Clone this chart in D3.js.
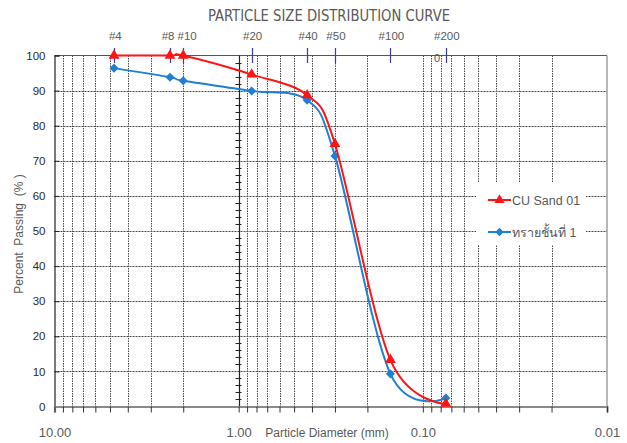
<!DOCTYPE html>
<html>
<head>
<meta charset="utf-8">
<script src="https://cdn.jsdelivr.net/npm/d3@7"></script>
<style>
  html, body { margin: 0; padding: 0; background: #fff; }
  svg { display: block; }
  text { white-space: pre; }
</style>
</head>
<body>
<div id="chart"></div>
<script>
// Sieve series (opening size in mm) and the percent passing for each sample
const sieveNames = ["#4", "#8", "#10", "#20", "#40", "#50", "#100", "#200"];
const sieveSizes = [4.75, 2.36, 2.0, 0.85, 0.425, 0.3, 0.15, 0.075];
const cuSand01   = [100, 100, 100, 94.6, 88.7, 74.8, 13.3, 0.8];
const sandLayer1 = [96.4, 93.8, 92.8, 89.9, 87.3, 71.4, 9.3, 2.4];
const seriesNames = ["CU Sand 01", "ทรายชั้นที่ 1"];
const xMajorTicks = [10, 1, 0.1, 0.01];
const yTicks = [0, 10, 20, 30, 40, 50, 60, 70, 80, 90, 100];

const W = 627, H = 443;
const plotL = 54.5, plotR = 607, plotT = 55.5, plotB = 406.5;

const svg = d3.select("#chart").append("svg")
  .attr("width", W).attr("height", H);

const x = d3.scaleLog().domain([10, 0.01]).range([plotL, plotR]);
const y = d3.scaleLinear().domain([0, 100]).range([plotB, plotT]);

const allXTicks = x.ticks();
const gridColor = "#4a4a4a";
const textGray = "#595959";
const fontTxt = "'Liberation Sans', Arial, sans-serif";

// vertical grid (dotted) across the full log range
svg.append("g").selectAll("line")
  .data(allXTicks.filter(v => !xMajorTicks.includes(v) || v === 0.1))
  .join("line")
  .attr("x1", d => Math.round(x(d)) + 0.5).attr("x2", d => Math.round(x(d)) + 0.5)
  .attr("y1", plotT).attr("y2", plotB)
  .attr("stroke", gridColor).attr("stroke-width", 1)
  .attr("stroke-dasharray", "1.5,1");

// horizontal grid (dotted)
svg.append("g").selectAll("line")
  .data(yTicks.filter(v => v > 0 && v < 100))
  .join("line")
  .attr("x1", plotL).attr("x2", plotR)
  .attr("y1", d => Math.round(y(d)) + 0.5).attr("y2", d => Math.round(y(d)) + 0.5)
  .attr("stroke", gridColor).attr("stroke-width", 1)
  .attr("stroke-dasharray", "2,1");

// plot frame: top and right borders
svg.append("line").attr("x1", plotL).attr("x2", plotR).attr("y1", plotT).attr("y2", plotT)
  .attr("stroke", "#555").attr("stroke-width", 1);
svg.append("line").attr("x1", plotR).attr("x2", plotR).attr("y1", plotT).attr("y2", plotB)
  .attr("stroke", "#888").attr("stroke-width", 1.2);

// solid line at 1.00 mm with minor tick marks
const x1mm = Math.round(x(1)) + 0.5;
svg.append("line").attr("x1", x1mm).attr("x2", x1mm).attr("y1", plotT).attr("y2", plotB)
  .attr("stroke", "#222").attr("stroke-width", 1.2);
svg.append("g").selectAll("line")
  .data(d3.range(2, 100, 2).filter(v => v % 10 !== 0))
  .join("line")
  .attr("x1", x1mm - 4).attr("x2", x1mm + 2)
  .attr("y1", d => Math.round(y(d)) + 0.5).attr("y2", d => Math.round(y(d)) + 0.5)
  .attr("stroke", "#222").attr("stroke-width", 1);

// left axis
const yAxis = svg.append("g").attr("transform", `translate(${plotL},0)`)
  .call(d3.axisLeft(y).tickValues(yTicks).tickSize(-5).tickPadding(9));
yAxis.select(".domain").attr("stroke", "#222").attr("stroke-width", 1.2);
yAxis.selectAll(".tick line").attr("stroke", "#222");
yAxis.selectAll(".tick text")
  .attr("font-family", fontTxt).attr("font-size", 11.5)
  .attr("fill", "#2a2a2a");

// bottom axis with ticks at every grid position
const xAxis = svg.append("g").attr("transform", `translate(0,${plotB})`)
  .call(d3.axisBottom(x).tickValues(allXTicks).tickSize(6).tickPadding(15)
    .tickFormat(d => xMajorTicks.includes(d) ? d3.format(".2f")(d) : ""));
xAxis.select(".domain").attr("stroke", "#8a8a8a").attr("stroke-width", 2.2);
xAxis.selectAll(".tick line").attr("stroke", "#333");
xAxis.selectAll(".tick text")
  .attr("font-family", fontTxt).attr("font-size", 13)
  .attr("fill", textGray);

// sieve markers along the top edge
svg.append("g").selectAll("line")
  .data(sieveSizes)
  .join("line")
  .attr("x1", d => Math.round(x(d)) + 0.5).attr("x2", d => Math.round(x(d)) + 0.5)
  .attr("y1", 48).attr("y2", 63)
  .attr("stroke", "#3a3aa0").attr("stroke-width", 1.2);

const sieveLabels = svg.append("g").selectAll("text")
  .data(sieveNames)
  .join("text")
  .attr("x", (d, i) => x(sieveSizes[i]) + 1)
  .attr("y", 40)
  .attr("text-anchor", "middle")
  .attr("font-family", fontTxt).attr("font-size", 11.5)
  .attr("fill", textGray)
  .text(d => d);

// push neighbouring sieve labels apart where they would collide
const nodes = sieveLabels.nodes();
const boxes = nodes.map(n => { const b = n.getBBox(); return { n, cx: b.x + b.width / 2, w: b.width }; });
for (let i = 1; i < boxes.length; i++) {
  const a = boxes[i - 1], b = boxes[i];
  const gap = (b.cx - b.w / 2) - (a.cx + a.w / 2);
  if (gap < 3) {
    const shift = (3 - gap) / 2;
    a.cx -= shift; b.cx += shift;
  }
}
boxes.forEach(b => d3.select(b.n).attr("x", b.cx));

svg.append("text").attr("x", 437).attr("y", 62).attr("text-anchor", "middle")
  .attr("font-family", fontTxt).attr("font-size", 11).attr("fill", textGray).text("0");

// titles
svg.append("text").attr("x", 329).attr("y", 21).attr("text-anchor", "middle")
  .attr("font-family", "'Liberation Sans Narrow', 'DejaVu Sans Condensed', 'Liberation Sans', sans-serif")
  .attr("font-size", 15).attr("fill", textGray)
  .attr("textLength", 242).attr("lengthAdjust", "spacingAndGlyphs")
  .text("PARTICLE SIZE DISTRIBUTION CURVE");
svg.append("text").attr("x", 327).attr("y", 437).attr("text-anchor", "middle")
  .attr("font-family", fontTxt).attr("font-size", 12).attr("fill", textGray)
  .text("Particle Diameter (mm)");
svg.append("text")
  .attr("transform", "translate(23,234) rotate(-90)")
  .attr("text-anchor", "middle")
  .attr("font-family", fontTxt).attr("font-size", 12).attr("fill", textGray)
  .text("Percent  Passing  (% )");

// legend background hides the grid beneath it
svg.append("rect").attr("x", 476).attr("y", 182).attr("width", 110).attr("height", 63)
  .attr("fill", "#fff");

// series
const series = [
  { name: seriesNames[0], values: cuSand01, color: "#ff1414", symbol: d3.symbolTriangle, size: 32, rot: 0 },
  { name: seriesNames[1], values: sandLayer1, color: "#1f80d2", symbol: d3.symbolSquare, size: 26, rot: 45 }
];

const line = d3.line()
  .x(d => x(d[0])).y(d => y(d[1]))
  .curve(d3.curveCardinal.tension(0));

series.slice().reverse().forEach(s => {
  const pts = sieveSizes.map((sz, i) => [sz, s.values[i]]);
  svg.append("path").datum(pts)
    .attr("d", line).attr("fill", "none")
    .attr("stroke", s.color).attr("stroke-width", 2);
  svg.append("g").selectAll("path")
    .data(pts).join("path")
    .attr("d", d3.symbol().type(s.symbol).size(s.size * 1.6))
    .attr("transform", d => `translate(${x(d[0])},${y(d[1])}) rotate(${s.rot})`)
    .attr("fill", s.color);
});

// legend entries
series.forEach((s, i) => {
  const ly = 200 + i * 32;
  svg.append("line").attr("x1", 488).attr("x2", 511).attr("y1", ly).attr("y2", ly)
    .attr("stroke", s.color).attr("stroke-width", 2);
  svg.append("path")
    .attr("d", d3.symbol().type(s.symbol).size(s.size * 1.4))
    .attr("transform", `translate(499.5,${ly}) rotate(${s.rot})`)
    .attr("fill", s.color);
  svg.append("text").attr("x", 512).attr("y", ly + 4.5)
    .attr("font-family", "'Liberation Sans', 'Noto Sans', 'DejaVu Sans', sans-serif")
    .attr("font-size", 12.5).attr("fill", textGray)
    .text(s.name);
});
</script>
</body>
</html>
